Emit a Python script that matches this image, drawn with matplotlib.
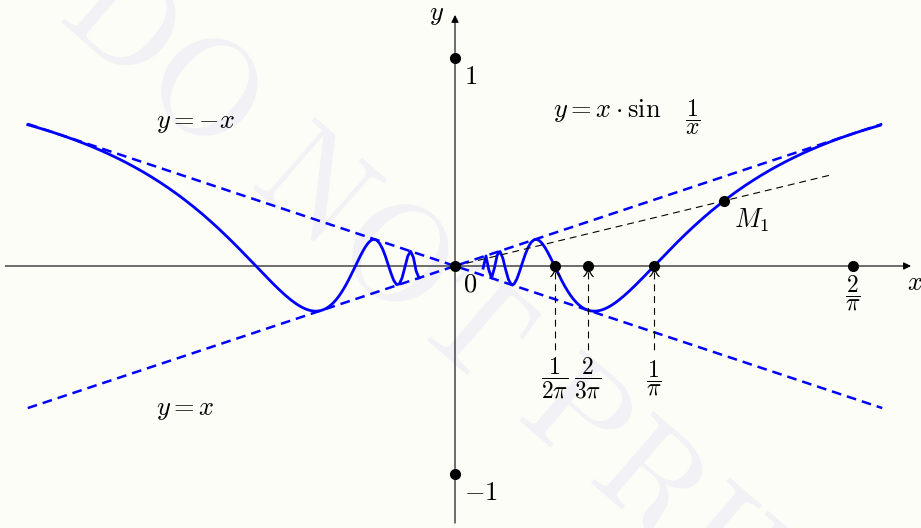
import numpy as np
import matplotlib
matplotlib.use("Agg")
import matplotlib.pyplot as plt
from matplotlib.path import Path

plt.rcParams["mathtext.fontset"] = "cm"
plt.rcParams["font.family"] = "serif"
plt.rcParams["font.serif"] = ["DejaVu Serif"]
plt.rcParams["lines.scale_dashes"] = False

# domain of y = x sin(1/x); the pieces stop short of 0
x_min, x_max = -0.683, 0.683
x_gap_left, x_gap_right = -0.056, 0.045
x_m1 = 0.43          # abscissa of M1
x_chord_end = 0.60   # end of the chord through O and M1

# marked points on the axes
pts_x = [1 / (2 * np.pi), 2 / (3 * np.pi), 1 / np.pi, 2 / np.pi]
pts_x_labels = [r"$\dfrac{1}{2\pi}$", r"$\dfrac{2}{3\pi}$", r"$\dfrac{1}{\pi}$", r"$\dfrac{2}{\pi}$"]
pts_y = [1, -1]
pts_y_labels = [r"$1$", r"$-1$"]


def f(x):
    return x * np.sin(1 / x)


BLUE = "#0000ff"
BG = "#fdfdf8"
FS = 19       # main label size
FS_FRAC = 17  # size for the displayed fractions

fig = plt.figure(figsize=(9.21, 5.28), dpi=100, facecolor=BG)
ax = fig.add_axes([0, 0, 1, 1])
ax.set_facecolor(BG)
ax.set_xlim(-0.7274, 0.745)
ax.set_ylim(-1.2596, 1.2788)
ax.axis("off")

# watermark, underneath everything
ax.text(480 / 921, 1 - 335 / 528, r"$\mathrm{DO\ NOT\ PRINT}$", fontsize=100,
        color="#f1f1f6", rotation=-41, ha="center", va="center",
        rotation_mode="anchor", transform=fig.transFigure, zorder=0)

# axes with arrow tips
arrow = dict(arrowstyle="-|>", lw=0.8, color="k", mutation_scale=11, shrinkA=0, shrinkB=0)
ax.annotate("", xy=(0.729, 0), xytext=(-0.719, 0), arrowprops=arrow, zorder=2)
ax.annotate("", xy=(0, 1.207), xytext=(0, -1.236), arrowprops=arrow, zorder=2)
ax.text(0.735, -0.077, r"$x$", fontsize=FS, ha="center", va="center")
ax.text(-0.029, 1.207, r"$y$", fontsize=FS, ha="center", va="center")

# asymptote lines y = x and y = -x
xs = np.array([x_min, x_max])
ax.plot(xs, xs, color=BLUE, lw=1.8, dashes=(7, 4.3), zorder=3)
ax.plot(xs, -xs, color=BLUE, lw=1.8, dashes=(7, 4.3), zorder=3)

# the curve, sampled coarsely like a pgf plot
xl = np.arange(x_min, x_gap_left, 0.0045)
xr = np.arange(x_gap_right, x_max + 1e-9, 0.0045)
ax.plot(xl, f(xl), color=BLUE, lw=2.0, zorder=4)
ax.plot(xr, f(xr), color=BLUE, lw=2.0, zorder=4)

# chord O-M1
slope = f(x_m1) / x_m1
ax.plot([0, x_chord_end], [0, slope * x_chord_end], color="k", lw=0.8,
        dashes=(5, 3.5), zorder=5)
ax.plot([x_m1], [f(x_m1)], "o", color="k", ms=7, zorder=6)
ax.text(0.474, 0.221, r"$M_1$", fontsize=FS, ha="center", va="center")

# points on the x axis, with dashed drop lines to the labels
tip = Path([(-0.6, -1.0), (-0.12, -0.6), (0, 0), (0.12, -0.6), (0.6, -1.0)],
           [Path.MOVETO, Path.CURVE3, Path.LINETO, Path.CURVE3, Path.LINETO])
for i, (px, lab) in enumerate(zip(pts_x, pts_x_labels)):
    ax.plot([px], [0], "o", color="k", ms=7, zorder=6)
    if i < 3:
        ax.plot([px, px], [-0.03, -0.405], color="k", lw=0.8, dashes=(5, 3.5), zorder=5)
        ax.plot([px], [-0.012], marker=tip, ms=12, mfc="none", mec="k", mew=0.9, zorder=6)
        ax.text(px, -0.538, lab, fontsize=FS_FRAC, ha="center", va="center")
    else:
        ax.text(px, -0.13, lab, fontsize=FS_FRAC, ha="center", va="center")

# points on the y axis
for py in pts_y:
    ax.plot([0], [py], "o", color="k", ms=7, zorder=6)
ax.text(0.025, 0.913, pts_y_labels[0], fontsize=FS, ha="center", va="center")
ax.text(0.042, -1.09, pts_y_labels[1], fontsize=FS, ha="center", va="center")

# origin
ax.plot([0], [0], "o", color="k", ms=7, zorder=6)
ax.text(0.024, -0.087, r"$0$", fontsize=FS, ha="center", va="center")

# equation labels
ax.text(-0.415, 0.692, r"$y=-x$", fontsize=FS, ha="center", va="center")
ax.text(-0.432, -0.692, r"$y=x$", fontsize=FS, ha="center", va="center")
ax.text(0.157, 0.716, r"$y=x\cdot\sin$", fontsize=FS, ha="left", va="baseline")
ax.text(0.380, 0.716, r"$\dfrac{1}{x}$", fontsize=FS_FRAC, ha="center", va="center")

fig.savefig("out.png", dpi=100, facecolor=BG)
